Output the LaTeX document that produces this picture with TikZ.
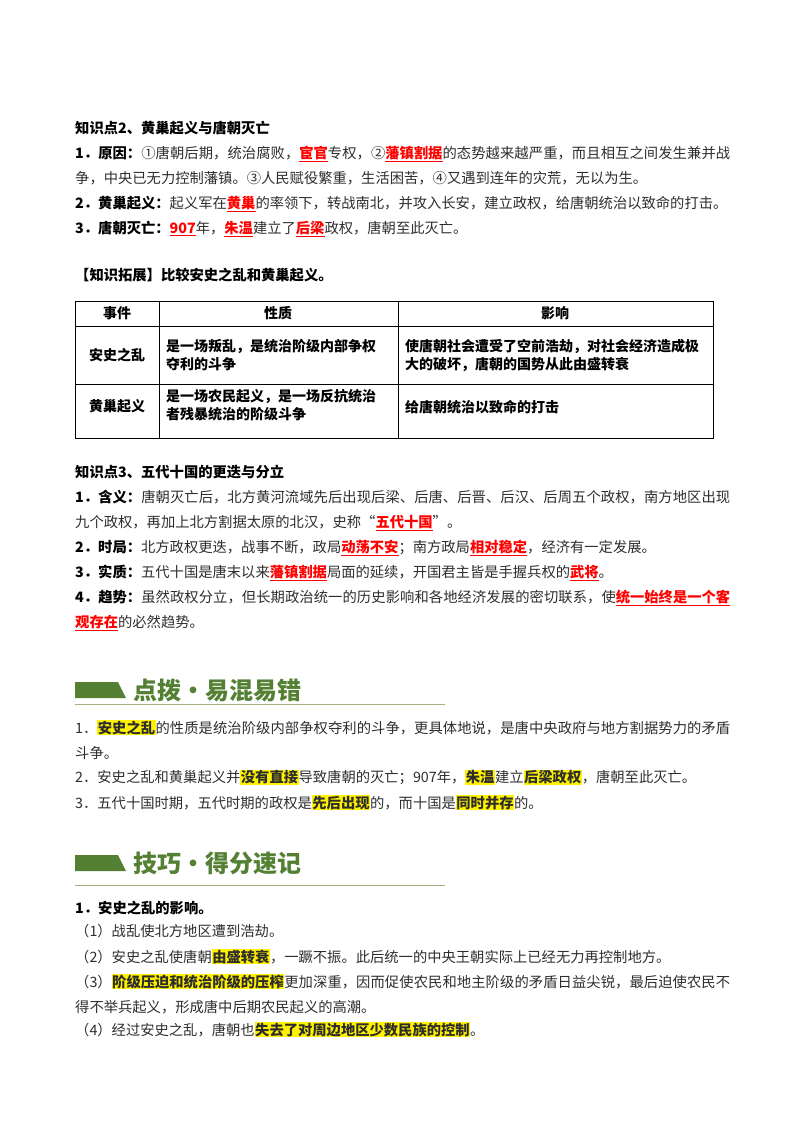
\documentclass[tikz,border=0pt]{standalone}
\usepackage{fontspec}
\setmainfont{Noto Sans CJK SC}
\usepackage{xcolor}
\XeTeXlinebreaklocale "zh"
\XeTeXlinebreakskip = 0pt plus 1pt
\definecolor{bannergreen}{RGB}{84,128,52}
\definecolor{bannerline}{RGB}{168,176,130}
\definecolor{bodygray}{RGB}{45,45,45}
\newcommand{\redul}[1]{\textcolor{red}{\bfseries\underline{#1}}}
\newcommand{\hiyel}[1]{{\setlength{\fboxsep}{0.5pt}\colorbox{yellow}{\bfseries #1}}}
\tikzstyle{page}=[x=1pt, y=-1pt, font=\fontsize{14.3}{25}\selectfont, text=bodygray]
\tikzstyle{para}=[anchor=north west, inner sep=0pt, text width=655pt, align=justify]
\tikzstyle{head}=[anchor=north west, inner sep=0pt, font=\fontsize{14.3}{25}\selectfont\bfseries, text=black]
\tikzstyle{cell}=[inner sep=0pt, font=\fontsize{14}{18}\selectfont\bfseries, text=black, align=left]
\tikzstyle{banner}=[anchor=west, inner sep=0pt, font=\fontsize{24}{28}\selectfont\bfseries, text=bannergreen]
\tikzstyle{grid}=[draw=black, line width=0.8pt]
\begin{document}
\begin{tikzpicture}[page]
	\useasboundingbox (0,0) rectangle (800,1132);
	
	%Knowledge point 2
	\draw (75,121) node[head] (kp2) {知识点2、黄巢起义与唐朝灭亡};
	\draw (75,146) node[para] (kp2-a) {\textbf{\textcolor{black}{1．原因：}}①唐朝后期，统治腐败，\redul{宦官}专权，②\redul{藩镇割据}的态势越来越严重，而且相互之间发生兼并战\linebreak 争，中央已无力控制藩镇。③人民赋役繁重，生活困苦，④又遇到连年的灾荒，无以为生。};
	\draw (75,196) node[para] (kp2-b) {\textbf{\textcolor{black}{2．黄巢起义：}}起义军在\redul{黄巢}的率领下，转战南北，并攻入长安，建立政权，给唐朝统治以致命的打击。};
	\draw (75,221) node[para] (kp2-c) {\textbf{\textcolor{black}{3．唐朝灭亡：}}\redul{907}年，\redul{朱温}建立了\redul{后梁}政权，唐朝至此灭亡。};
	
	%Comparison table
	\draw (75,268) node[head] (ext) {【知识拓展】比较安史之乱和黄巢起义。};
	\draw[grid] (75,301) rectangle (713,438);
	\draw[grid] (75,326) -- (713,326);
	\draw[grid] (75,384) -- (713,384);
	\draw[grid] (159,301) -- (159,438);
	\draw[grid] (398,301) -- (398,438);
	\draw (117,313) node[cell] (th1) {事件};
	\draw (278,313) node[cell] (th2) {性质};
	\draw (555,313) node[cell] (th3) {影响};
	\draw (117,355) node[cell] (r1c1) {安史之乱};
	\draw (166,355) node[cell, anchor=west] (r1c2) {是一场叛乱，是统治阶级内部争权\\夺利的斗争};
	\draw (405,355) node[cell, anchor=west] (r1c3) {使唐朝社会遭受了空前浩劫，对社会经济造成极\\大的破坏，唐朝的国势从此由盛转衰};
	\draw (117,406) node[cell] (r2c1) {黄巢起义};
	\draw (166,405) node[cell, anchor=west] (r2c2) {是一场农民起义，是一场反抗统治\\者残暴统治的阶级斗争};
	\draw (405,407) node[cell, anchor=west] (r2c3) {给唐朝统治以致命的打击};
	
	%Knowledge point 3
	\draw (75,465) node[head] (kp3) {知识点3、五代十国的更迭与分立};
	\draw (75,490) node[para] (kp3-a) {\textbf{\textcolor{black}{1．含义：}}唐朝灭亡后，北方黄河流域先后出现后梁、后唐、后晋、后汉、后周五个政权，南方地区出现\linebreak 九个政权，再加上北方割据太原的北汉，史称“\redul{五代十国}”。};
	\draw (75,540) node[para] (kp3-b) {\textbf{\textcolor{black}{2．时局：}}北方政权更迭，战事不断，政局\redul{动荡不安}；南方政局\redul{相对稳定}，经济有一定发展。};
	\draw (75,565) node[para] (kp3-c) {\textbf{\textcolor{black}{3．实质：}}五代十国是唐末以来\redul{藩镇割据}局面的延续，开国君主皆是手握兵权的\redul{武将}。};
	\draw (75,590) node[para] (kp3-d) {\textbf{\textcolor{black}{4．趋势：}}虽然政权分立，但长期政治统一的历史影响和各地经济发展的密切联系，使\redul{统一始终是一个客}\linebreak \redul{观存在}的必然趋势。};
	
	%First banner
	\fill[bannergreen] (75,682) -- (118,682) -- (126,698) -- (75,698) -- cycle;
	\draw (133,690) node[banner] (ban1) {点拨·易混易错};
	\draw[bannerline, line width=1pt] (75,704) -- (445,704);
	\draw (75,720) node[para] (tip-a) {1．\hiyel{安史之乱}的性质是统治阶级内部争权夺利的斗争，更具体地说，是唐中央政府与地方割据势力的矛盾\linebreak 斗争。};
	\draw (75,770) node[para] (tip-b) {2．安史之乱和黄巢起义并\hiyel{没有直接}导致唐朝的灭亡；907年，\hiyel{朱温}建立\hiyel{后梁政权}，唐朝至此灭亡。};
	\draw (75,795) node[para] (tip-c) {3．五代十国时期，五代时期的政权是\hiyel{先后出现}的，而十国是\hiyel{同时并存}的。};
	
	%Second banner
	\fill[bannergreen] (75,855) -- (118,855) -- (126,871) -- (75,871) -- cycle;
	\draw (133,863) node[banner] (ban2) {技巧·得分速记};
	\draw[bannerline, line width=1pt] (75,885) -- (445,885);
	\draw (75,901) node[head] (mem) {1．安史之乱的影响。};
	\draw (75,924) node[para] (mem-a) {（1）战乱使北方地区遭到浩劫。};
	\draw (75,949) node[para] (mem-b) {（2）安史之乱使唐朝\hiyel{由盛转衰}，一蹶不振。此后统一的中央王朝实际上已经无力再控制地方。};
	\draw (75,974) node[para] (mem-c) {（3）\hiyel{阶级压迫和统治阶级的压榨}更加深重，因而促使农民和地主阶级的矛盾日益尖锐，最后迫使农民不\linebreak 得不举兵起义，形成唐中后期农民起义的高潮。};
	\draw (75,1022) node[para] (mem-d) {（4）经过安史之乱，唐朝也\hiyel{失去了对周边地区少数民族的控制}。};
\end{tikzpicture}
\end{document}
